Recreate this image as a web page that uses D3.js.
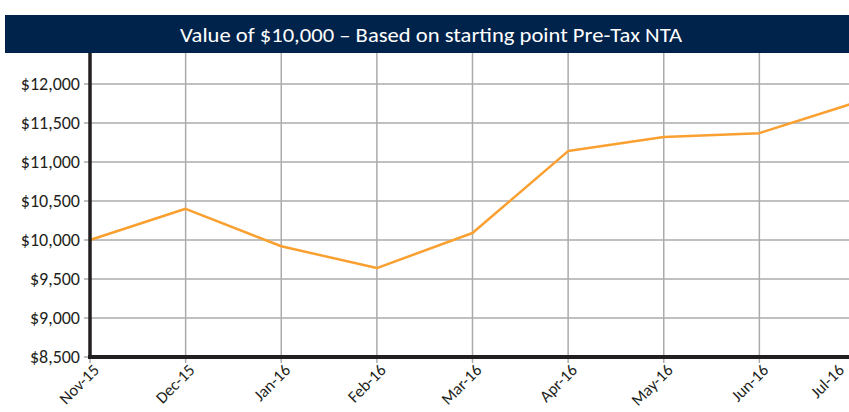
<!DOCTYPE html>
<html>
<head>
<meta charset="utf-8">
<script src="https://cdn.jsdelivr.net/npm/d3@7"></script>
<style>
  body { margin: 0; background: #fff; }
  svg { font-family: Carlito, Lato, sans-serif; }
</style>
</head>
<body>
<svg id="svg" width="849" height="412"></svg>
<script>
const months = ["Nov-15", "Dec-15", "Jan-16", "Feb-16", "Mar-16", "Apr-16", "May-16", "Jun-16", "Jul-16"];
const values = [10000, 10400, 9920, 9640, 10090, 11140, 11320, 11370, 11760];
const yTicks = [8500, 9000, 9500, 10000, 10500, 11000, 11500, 12000];
const title = "Value of $10,000 \u2013 Based on starting point Pre-Tax NTA";

const svg = d3.select("#svg");
const width = 849, height = 412;
const plotLeft = 90, plotRight = 855, plotTop = 45, plotBottom = 357;

const x = d3.scalePoint().domain(months).range([plotLeft, plotRight]);
const y = d3.scaleLinear().domain([8500, 12500]).range([plotBottom, plotTop]);

// grid
svg.append("g")
  .selectAll("line")
  .data(yTicks)
  .join("line")
  .attr("x1", plotLeft - 6).attr("x2", width)
  .attr("y1", d => y(d)).attr("y2", d => y(d))
  .attr("stroke", "#ababab").attr("stroke-width", 1.5);

svg.append("g")
  .selectAll("line")
  .data(months)
  .join("line")
  .attr("x1", d => x(d)).attr("x2", d => x(d))
  .attr("y1", plotTop).attr("y2", plotBottom + 6)
  .attr("stroke", "#ababab").attr("stroke-width", 1.5);

// line
const line = d3.line()
  .x((d, i) => x(months[i]))
  .y(d => y(d));

svg.append("path")
  .datum(values)
  .attr("d", line)
  .attr("fill", "none")
  .attr("stroke", "#f9a031")
  .attr("stroke-width", 2.5)
  .attr("stroke-linejoin", "round");

// axes
svg.append("line")
  .attr("x1", plotLeft).attr("x2", plotLeft)
  .attr("y1", plotTop).attr("y2", plotBottom + 2)
  .attr("stroke", "#231f20").attr("stroke-width", 3.5);
svg.append("line")
  .attr("x1", plotLeft - 2).attr("x2", width)
  .attr("y1", plotBottom).attr("y2", plotBottom)
  .attr("stroke", "#231f20").attr("stroke-width", 4);

// y labels
svg.append("g")
  .selectAll("text")
  .data(yTicks)
  .join("text")
  .attr("x", plotLeft - 10)
  .attr("y", d => y(d))
  .attr("dy", "0.36em")
  .attr("text-anchor", "end")
  .attr("fill", "#231f20")
  .style("font-size", "18px")
  .text(d => "$" + d3.format(",")(d));

// x labels (the last one is pulled in so it stays on the page)
svg.append("g")
  .selectAll("text")
  .data(months)
  .join("text")
  .attr("transform", d => `translate(${Math.min(x(d) + 6, 841)}, ${plotBottom + 10}) rotate(-45)`)
  .attr("text-anchor", "end")
  .attr("dy", "0.35em")
  .attr("fill", "#231f20")
  .style("font-size", "16.5px")
  .text(d => d);

// title bar
svg.append("rect")
  .attr("x", 5).attr("y", 15)
  .attr("width", width - 5).attr("height", 38)
  .attr("fill", "#00234b");
svg.append("text")
  .attr("x", 180).attr("y", 35)
  .attr("dy", "0.35em")
  .attr("textLength", 502)
  .attr("lengthAdjust", "spacingAndGlyphs")
  .attr("fill", "#fff")
  .style("font-size", "21px")
  .text(title);
</script>
</body>
</html>
